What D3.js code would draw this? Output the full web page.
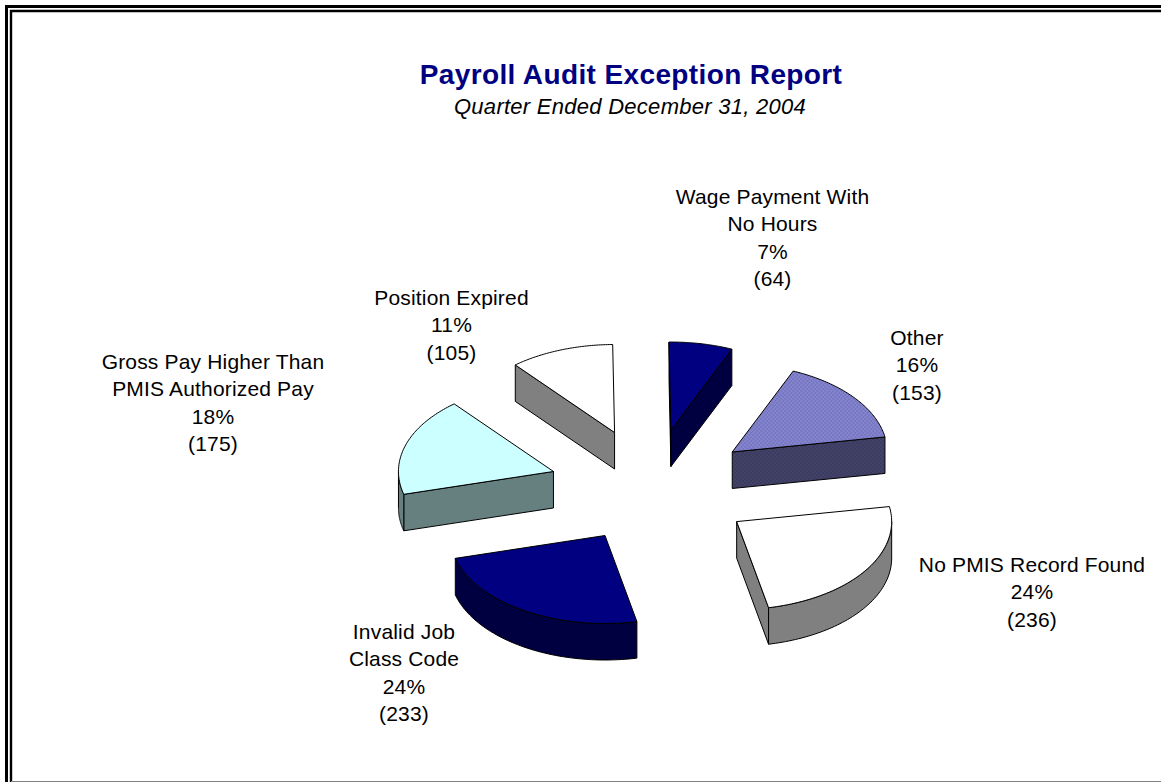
<!DOCTYPE html>
<html>
<head>
<meta charset="utf-8">
<style>
html,body{margin:0;padding:0;background:#fff;overflow:hidden}
svg{display:block}
text{font-family:"Liberation Sans",Arial,sans-serif;text-anchor:middle}
</style>
<script src="https://cdn.jsdelivr.net/npm/d3@7/dist/d3.min.js"></script>
</head>
<body>
<svg id="chart" width="1161" height="782"></svg>
<script>
const titleText = "Payroll Audit Exception Report";
const subtitleText = "Quarter Ended December 31, 2004";
const categoryLines = [
  ["Wage Payment With","No Hours"],
  ["Other"],
  ["No PMIS Record Found"],
  ["Invalid Job","Class Code"],
  ["Gross Pay Higher Than","PMIS Authorized Pay"],
  ["Position Expired"]
];
const values = [64,153,236,233,175,105];
const topColors = ["#000080","url(#hatch)","#ffffff","#000080","#ccffff","#ffffff"];
const sideColors = ["#000040","url(#hatchDark)","#808080","#000040","#668080","#808080"];

// label anchor: centre x and first baseline
const labelX = [772.5,917,1032,404,213,451.5];
const labelY = [204,345,572,639,369,305];
const lineStep = 27.3;

const W=1161,H=782;
const rx=155, ry=88, depth=36.5, explode=0.66;
const cx=651, cy=486;
const startDeg=-0.7;
const apexShiftX=[0,1,1,7.5,0,-1];
const apexShiftY=[1,2,3,0,3,1];

const svg=d3.select("#chart");
const defs=svg.append("defs");
function checker(id,a,b){
  const p=defs.append("pattern").attr("id",id).attr("width",4).attr("height",4)
    .attr("patternUnits","userSpaceOnUse");
  p.append("rect").attr("width",4).attr("height",4).attr("fill",a);
  p.append("rect").attr("width",2).attr("height",2).attr("fill",b);
  p.append("rect").attr("x",2).attr("y",2).attr("width",2).attr("height",2).attr("fill",b);
}
checker("hatch","#7676c4","#8585cc");
checker("hatchDark","#3b3b62","#434368");

// frame
const frame=svg.append("g").attr("fill","none").attr("stroke","#000");
frame.append("path").attr("d",`M${W},6.5H6.5V${H}`).attr("stroke-width",3);
frame.append("path").attr("d",`M${W},11H11V${H}`).attr("stroke-width",2.4);
frame.append("path").attr("d",`M11,781.5H${W}`).attr("stroke","#808080").attr("stroke-width",1);

// title
svg.append("text").attr("x",631).attr("y",84).attr("fill","#000080")
  .attr("font-weight","bold").attr("font-size",28).attr("letter-spacing",0.38).text(titleText);
svg.append("text").attr("x",630).attr("y",114).attr("fill","#000")
  .attr("font-style","italic").attr("font-size",22).attr("letter-spacing",0.27).text(subtitleText);

// pie
const pie=d3.pie().sort(null).value(d=>d)
  .startAngle(startDeg*Math.PI/180).endAngle((startDeg+360)*Math.PI/180);
const arcs=pie(values);
const sx=d3.scaleLinear().domain([-1,1]).range([-rx,rx]);
const sy=d3.scaleLinear().domain([-1,1]).range([-ry,ry]);
const rim=t=>[sx(Math.sin(t)),sy(-Math.cos(t))];
const line=d3.line();
function rimPoints(a,b){
  return d3.range(0,61).map(i=>rim(a+(b-a)*i/60));
}
const drop=p=>[p[0],p[1]+depth];
const g=svg.append("g").attr("stroke","#000").attr("stroke-width",1).attr("stroke-linejoin","round");

arcs.forEach((d,i)=>{
  const mid=(d.startAngle+d.endAngle)/2;
  const ox=cx+explode*sx(Math.sin(mid))+apexShiftX[i];
  const oy=cy+explode*sy(-Math.cos(mid))+apexShiftY[i];
  const sl=g.append("g").attr("transform",`translate(${ox},${oy})`);
  const side=sideColors[i], top=topColors[i];
  const apex=[0,0];
  const pS=rim(d.startAngle), pE=rim(d.endAngle);
  const face=(p)=>sl.append("path").attr("fill",side)
    .attr("d",line([apex,p,drop(p),drop(apex)])+"Z");
  if(Math.sin(d.startAngle)<0) face(pS);
  if(Math.sin(d.endAngle)>0) face(pE);
  const a=Math.max(d.startAngle,Math.PI/2), b=Math.min(d.endAngle,3*Math.PI/2);
  if(b>a){
    const pts=rimPoints(a,b);
    sl.append("path").attr("fill",side)
      .attr("d",line(pts.concat(pts.map(drop).reverse()))+"Z");
  }
  sl.append("path").attr("fill",top)
    .attr("d",line([apex].concat(rimPoints(d.startAngle,d.endAngle)))+"Z");
});

// labels
const total=d3.sum(values);
values.forEach((v,i)=>{
  const lines=categoryLines[i].concat([d3.format(".0%")(v/total),`(${v})`]);
  const t=svg.append("text").attr("font-size",21).attr("letter-spacing",0.17).attr("fill","#000");
  lines.forEach((l,k)=>t.append("tspan").attr("x",labelX[i]).attr("y",labelY[i]+k*lineStep).text(l));
});
</script>
</body>
</html>
